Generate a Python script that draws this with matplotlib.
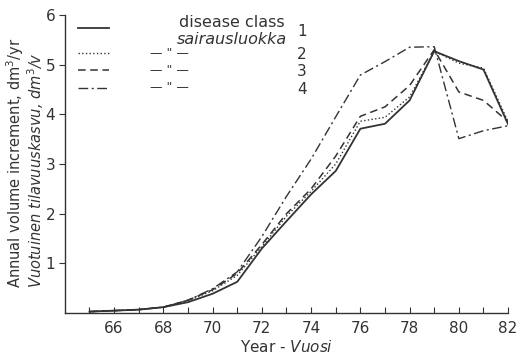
import matplotlib
matplotlib.use('Agg')
import matplotlib.pyplot as plt

plt.rcParams['font.family'] = ['DejaVu Sans']

years = list(range(65, 83))
class1 = [0.03, 0.05, 0.07, 0.12, 0.22, 0.39, 0.63, 1.30, 1.85, 2.39, 2.86, 3.71, 3.81, 4.28, 5.27, 5.07, 4.90, 3.80]
class2 = [0.03, 0.05, 0.07, 0.12, 0.25, 0.45, 0.76, 1.34, 1.95, 2.45, 3.00, 3.86, 3.94, 4.35, 5.27, 5.03, 4.93, 3.85]
class3 = [0.03, 0.05, 0.07, 0.12, 0.26, 0.47, 0.80, 1.38, 2.00, 2.50, 3.16, 3.96, 4.15, 4.58, 5.30, 4.45, 4.28, 3.85]
class4 = [0.03, 0.05, 0.07, 0.12, 0.26, 0.49, 0.83, 1.54, 2.35, 3.10, 3.95, 4.79, 5.06, 5.35, 5.36, 3.51, 3.67, 3.77]

series = [class1, class2, class3, class4]
styles = ['-', ':', (0, (5, 3)), (0, (7, 2.5, 1.5, 2.5))]
widths = [1.3, 1.0, 1.1, 1.0]
class_labels = ['1', '2', '3', '4']
ink = '#333333'

fig = plt.figure(figsize=(5.19, 3.55), dpi=100)
ax = fig.add_axes([0.125, 0.118, 0.854, 0.84])

for vals, ls, lw in zip(series, styles, widths):
    ax.plot(years, vals, color=ink, linestyle=ls, linewidth=lw)

ax.set_xlim(64, 82)
ax.set_ylim(0, 6)
ax.spines['top'].set_visible(False)
ax.spines['right'].set_visible(False)
for s in ['left', 'bottom']:
    ax.spines[s].set_color(ink)
    ax.spines[s].set_linewidth(1.0)

ax.set_xticks(years)
ax.set_xticklabels([str(y) if y % 2 == 0 else '' for y in years])
ax.set_yticks([1, 2, 3, 4, 5, 6])
ax.tick_params(axis='x', direction='in', length=4, labelsize=11, colors=ink, pad=6)
ax.tick_params(axis='y', direction='out', length=4, labelsize=11, colors=ink, pad=3)

ax.set_xlabel('Year - $\\it{Vuosi}$', fontsize=11, color=ink, labelpad=2)

# two-language y label, both lines start at the same height
fig.text(0.030, 0.189, 'Annual volume increment, dm$^3$/yr', rotation=90,
         ha='center', va='bottom', fontsize=10.5, color=ink)
fig.text(0.068, 0.189, 'Vuotuinen tilavuuskasvu, dm$^3$/v', rotation=90,
         ha='center', va='bottom', fontsize=10.5, color=ink, style='italic')

# hand-drawn legend
lx0, lx1 = 0.03, 0.10
rows = [0.956, 0.872, 0.815, 0.755]
for y, ls, lw in zip(rows, styles, widths):
    ax.plot([lx0, lx1], [y, y], transform=ax.transAxes, color=ink,
            linestyle=ls, linewidth=lw, clip_on=False)
ax.text(0.377, 0.976, 'disease class', transform=ax.transAxes, ha='center',
        va='center', fontsize=11.5, color=ink)
ax.text(0.377, 0.916, 'sairausluokka', transform=ax.transAxes, ha='center',
        va='center', fontsize=11.5, color=ink, style='italic')
ax.text(0.535, 0.945, class_labels[0], transform=ax.transAxes, ha='center',
        va='center', fontsize=11, color=ink)
for y, lab in zip(rows[1:], class_labels[1:]):
    ax.text(0.237, y, '— " —', transform=ax.transAxes, ha='center',
            va='center', fontsize=9, color=ink)
    ax.text(0.535, y - 0.005, lab, transform=ax.transAxes, ha='center',
            va='center', fontsize=11, color=ink)

fig.savefig('out.png', dpi=100, facecolor='white')
